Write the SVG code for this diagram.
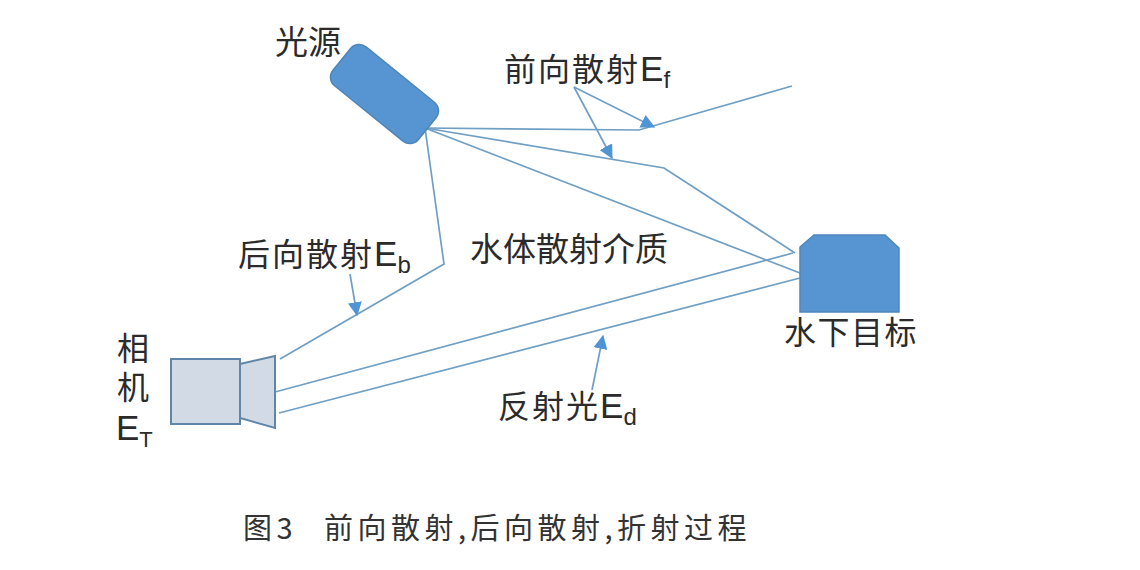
<svg xmlns="http://www.w3.org/2000/svg" width="1140" height="570" viewBox="0 0 1140 570">
<style>
.l{fill:none;stroke:#6f9fc4;stroke-width:1.7;stroke-linejoin:miter}
.a{fill:none;stroke:#6f9fc4;stroke-width:1.7}
.t{font-family:"Liberation Sans","Noto Sans CJK SC",sans-serif;font-size:32px;fill:#2b2b2b}
.e{font-size:35px;letter-spacing:0}
.s{font-size:24px;letter-spacing:0}
.c{font-family:"Noto Sans CJK SC",sans-serif;font-size:29px;fill:#333;letter-spacing:4.500px}
.b{fill:#5694d2;stroke:#4f86ba;stroke-width:1.5}
.g{fill:#d2dae6;stroke:#5f86a8;stroke-width:2}
</style>
<defs>
<marker id="h" viewBox="0 0 12 12" refX="11" refY="6" markerWidth="14" markerHeight="14" markerUnits="userSpaceOnUse" orient="auto"><path d="M0 0L12 6L0 12Z" fill="#4f94d4"/></marker>
</defs>
<rect width="1140" height="570" fill="#fff"/>
<g id="connectors">
<path class="l" d="M425 128L639 130L792 86"/>
<path class="l" d="M425 128L664 168L795 253"/>
<path class="l" d="M425 128L800 273"/>
<path class="l" d="M425 128L444 264L280 359"/>
<path class="l" d="M275 392L793 253"/>
<path class="l" d="M279 413L800 278"/>
<path class="a" marker-end="url(#h)" d="M574 87L654 127"/>
<path class="a" marker-end="url(#h)" d="M574 87L612 158"/>
<path class="a" marker-end="url(#h)" d="M350 274L357 315"/>
<path class="a" marker-end="url(#h)" d="M592 390L603 336"/>
</g>
<g id="light">
<rect class="b" x="329.500" y="69" width="110" height="50" rx="11" transform="rotate(39 384.500 94)"/>
<text class="t" x="275" y="54" style="font-size:33px">光源</text>
</g>
<g id="target">
<path class="b" d="M800 247L814 235L885 235L899 248L899 312L800 312Z"/>
<text class="t" x="784" y="344" letter-spacing="1.500">水下目标</text>
</g>
<g id="camera">
<rect class="g" x="171" y="359" width="69" height="65"/>
<path class="g" d="M240 364L275 356L275 428L240 418Z"/>
<text class="t" x="117" y="360">相</text>
<text class="t" x="117" y="399">机</text>
<text class="t" x="116" y="440"><tspan class="e">E</tspan><tspan class="s" dy="7" style="font-size:22px">T</tspan></text>
</g>
<g id="labels">
<text class="t" x="504" y="81" letter-spacing="2">前向散射<tspan class="e">E</tspan><tspan class="s" dy="7">f</tspan></text>
<text class="t" x="238" y="266" letter-spacing="2">后向散射<tspan class="e">E</tspan><tspan class="s" dy="7">b</tspan></text>
<text class="t" x="470" y="261" style="font-size:33px">水体散射介质</text>
<text class="t" x="498" y="418" letter-spacing="2">反射光<tspan class="e">E</tspan><tspan class="s" dy="7">d</tspan></text>
<text class="c" x="243" y="539">图3</text>
<text class="c" x="324" y="539">前向散射,后向散射,折射过程</text>
</g>
</svg>
